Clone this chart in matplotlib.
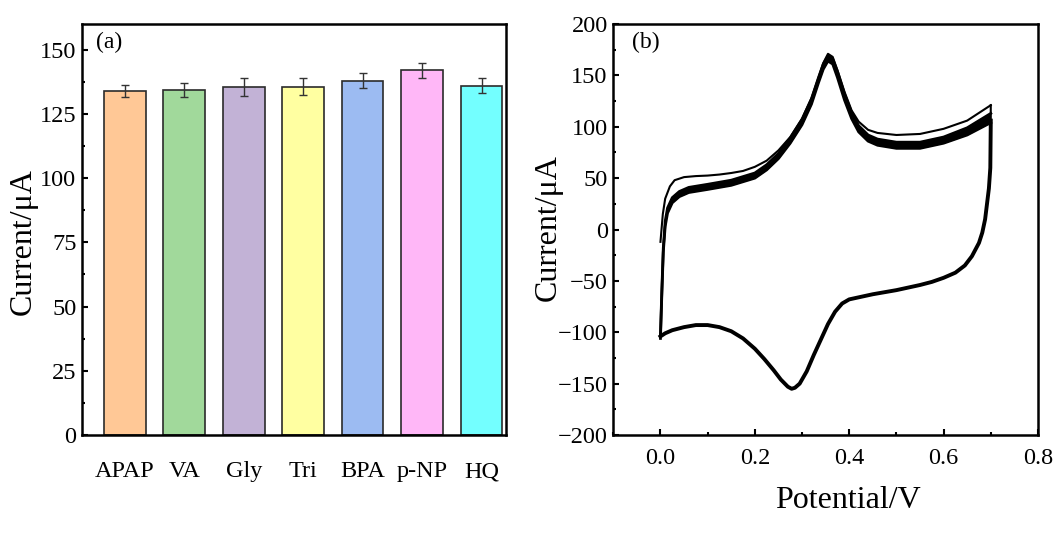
import numpy as np
import matplotlib
matplotlib.use("Agg")
import matplotlib.pyplot as plt
from matplotlib.ticker import MultipleLocator, AutoMinorLocator

plt.rcParams['font.family'] = ['Liberation Serif', 'DejaVu Serif']
plt.rcParams['mathtext.fontset'] = 'stix'

# ---- panel (a): anti-interference bars ----
species = ['APAP', 'VA', 'Gly', 'Tri', 'BPA', 'p-NP', 'HQ']
current_a = [133.8, 134.2, 135.4, 135.6, 138.0, 142.0, 136.0]
error_a = [2.3, 2.7, 3.6, 3.2, 3.0, 2.85, 3.0]
bar_colors = ['#FFC896', '#A1D99B', '#C2B2D6', '#FFFFA1', '#9CBBF2', '#FFB7F7', '#73FFFF']

# ---- panel (b): repeated CV scans ----
# forward sweep, first scan
e_fwd1 = [0.000, 0.005, 0.010, 0.020, 0.030, 0.050, 0.075, 0.100, 0.125, 0.150,
          0.175, 0.200, 0.225, 0.250, 0.275, 0.300, 0.320, 0.335, 0.345, 0.355,
          0.365, 0.375, 0.390, 0.405, 0.420, 0.440, 0.460, 0.500, 0.550, 0.600,
          0.650, 0.700]
i_fwd1 = [-12, 15, 30, 42, 48, 51, 52, 52.5, 53.5, 55,
          57, 61, 67, 77, 90, 108, 128, 148, 162, 171,
          168, 155, 134, 116, 105, 97, 94, 92, 93, 98,
          106, 121]

# forward sweep, later scans (upper and lower edge of the bundle)
e_fwd = [0.000, 0.003, 0.006, 0.010, 0.015, 0.025, 0.040, 0.060, 0.100, 0.150,
         0.200, 0.225, 0.250, 0.275, 0.300, 0.320, 0.335, 0.345, 0.355, 0.365,
         0.375, 0.390, 0.405, 0.420, 0.440, 0.460, 0.500, 0.550, 0.600, 0.650,
         0.700]
i_fwd_hi = [-102, -58, -18, 8, 21, 31, 37, 41, 44, 48,
            55, 63, 74, 89, 107, 127, 148, 161, 169, 166,
            154, 132, 114, 101, 92, 88, 85, 85, 90, 99,
            113]
i_fwd_lo = [-106, -62, -22, 3, 16, 26, 32, 36, 39, 43,
            50, 58, 69, 84, 102, 122, 143, 156, 164, 161,
            148, 126, 108, 95, 86, 82, 79, 79, 84, 92,
            104]

# reverse sweep (all scans nearly overlap)
e_rev = [0.700, 0.699, 0.696, 0.692, 0.688, 0.682, 0.675, 0.660, 0.645, 0.625,
         0.600, 0.575, 0.550, 0.500, 0.450, 0.420, 0.400, 0.385, 0.370, 0.355,
         0.340, 0.325, 0.310, 0.295, 0.285, 0.278, 0.270, 0.255, 0.240, 0.220,
         0.200, 0.175, 0.150, 0.125, 0.100, 0.075, 0.050, 0.025, 0.010, 0.000]
i_rev = [106, 60, 40, 25, 10, -3, -13, -26, -35, -42,
         -47, -51, -54, -59, -63, -66, -68, -72, -80, -92,
         -107, -122, -138, -150, -154, -155, -153, -146, -137, -126,
         -116, -106, -99, -95, -93, -93, -95, -98, -101, -104]
i_rev_first_vertex = 121

fig = plt.figure(figsize=(10.57, 5.36), dpi=100)
ax1 = fig.add_axes([0.0776, 0.1884, 0.4011, 0.7668])
ax2 = fig.add_axes([0.5802, 0.1884, 0.4018, 0.7668])

for ax in (ax1, ax2):
    for sp in ax.spines.values():
        sp.set_linewidth(1.8)
    ax.tick_params(which='both', direction='in', top=False, right=False,
                   labelsize=17.5, width=1.5)
    ax.tick_params(which='major', length=4)
    ax.tick_params(which='minor', length=2.5)

# panel (a)
x = np.arange(len(species))
ax1.bar(x, current_a, width=0.70, color=bar_colors, edgecolor='#2b2b2b',
        linewidth=1.2, zorder=2)
ax1.errorbar(x, current_a, yerr=error_a, fmt='none', ecolor='#333333',
             elinewidth=1.0, capsize=3, capthick=1.0, zorder=3)
ax1.set_xlim(-0.72, 6.41)
ax1.set_ylim(0, 160)
ax1.yaxis.set_major_locator(MultipleLocator(25))
ax1.yaxis.set_minor_locator(AutoMinorLocator(2))
ax1.set_xticks(x)
ax1.set_xticklabels(species)
ax1.tick_params(axis='x', length=0, pad=19)
ax1.tick_params(axis='y', pad=4)
ax1.set_ylabel('Current/μA', fontsize=23)
ax1.yaxis.set_label_coords(-0.105, 0.47)
ax1.text(0.033, 0.954, '(a)', transform=ax1.transAxes, fontsize=17,
         ha='left', va='center')

# panel (b)
ax2.plot(e_fwd1, i_fwd1, color='black', lw=1.5)
ax2.plot(e_fwd, i_fwd_hi, color='black', lw=2.0)
ax2.plot(e_fwd, i_fwd_lo, color='black', lw=2.0)
ax2.fill_between(e_fwd, i_fwd_lo, i_fwd_hi, color='black', lw=0)
ax2.plot(e_rev, i_rev, color='black', lw=2.8)
ax2.plot([e_rev[0], e_rev[1]], [i_rev_first_vertex, i_rev[1]], color='black', lw=1.5)
ax2.set_xlim(-0.1, 0.8)
ax2.set_ylim(-200, 200)
ax2.xaxis.set_major_locator(MultipleLocator(0.2))
ax2.xaxis.set_minor_locator(AutoMinorLocator(2))
ax2.yaxis.set_major_locator(MultipleLocator(50))
ax2.yaxis.set_minor_locator(AutoMinorLocator(2))
ax2.tick_params(axis='x', pad=9)
ax2.tick_params(axis='y', pad=4)
ax2.set_ylabel('Current/μA', fontsize=23)
ax2.yaxis.set_label_coords(-0.118, 0.504)
ax2.set_xlabel('Potential/V', fontsize=23)
ax2.xaxis.set_label_coords(0.553, -0.123)
ax2.text(0.043, 0.955, '(b)', transform=ax2.transAxes, fontsize=17,
         ha='left', va='center')

fig.savefig('out.png', dpi=100)
